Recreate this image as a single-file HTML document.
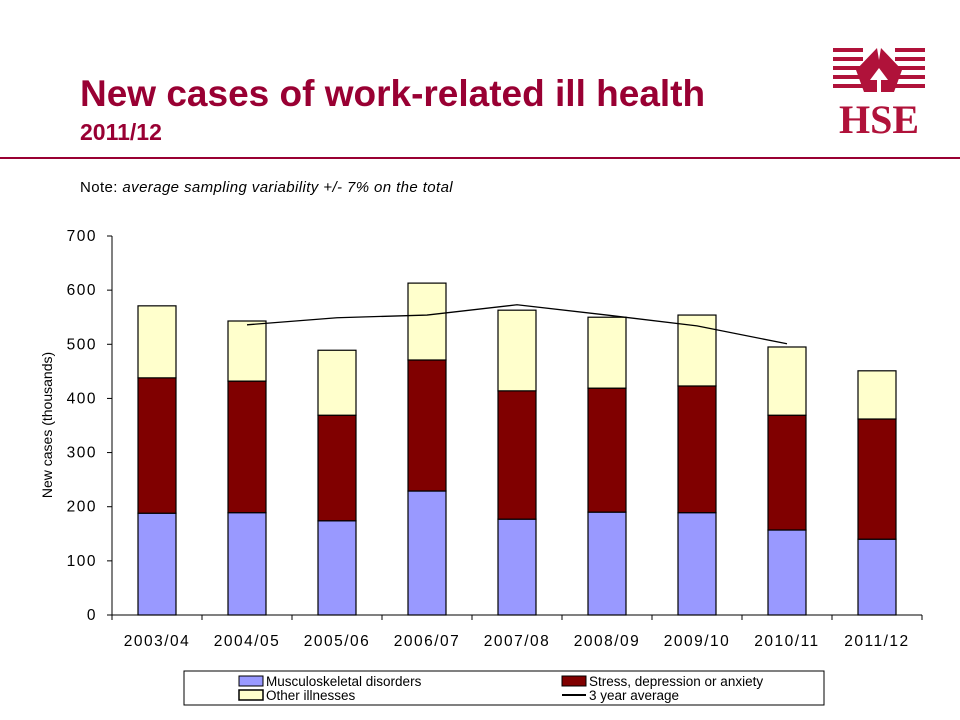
<!DOCTYPE html>
<html><head><meta charset="utf-8"><style>
body{margin:0;width:960px;height:720px;background:#fff;overflow:hidden;font-family:"Liberation Sans",Arial,sans-serif}
svg{position:absolute;left:0;top:0}
</style></head><body>
<svg id="c" width="960" height="720" xmlns="http://www.w3.org/2000/svg">
<text x="80" y="106" font-size="37" font-weight="bold" fill="#990033">New cases of work-related ill health</text>
<text x="80" y="140" font-size="23" font-weight="bold" fill="#990033">2011/12</text>
<rect x="0" y="157" width="960" height="2" fill="#990033"/>
<g fill="#b0123a">
<rect x="833" y="48" width="30" height="4"/><rect x="833" y="57" width="30" height="4"/><rect x="833" y="66" width="30" height="4"/><rect x="833" y="75" width="30" height="4"/><rect x="833" y="84" width="30" height="4"/>
<rect x="895" y="48" width="30" height="4"/><rect x="895" y="57" width="30" height="4"/><rect x="895" y="66" width="30" height="4"/><rect x="895" y="75" width="30" height="4"/><rect x="895" y="84" width="30" height="4"/>
<polygon points="877,48 856,70 864,92 877,92 877,80 870,80 879,68 888,80 881,80 881,92 894,92 902,70 881,48 879,60"/>
<text x="879" y="133" font-family="Liberation Serif,serif" font-size="40" font-weight="bold" text-anchor="middle">HSE</text>
</g>
<text x="80" y="192" font-size="15" letter-spacing="0.4">Note: <tspan font-style="italic">average sampling variability +/- 7% on the total</tspan></text>
<text transform="translate(52,425) rotate(-90)" font-size="14" text-anchor="middle">New cases (thousands)</text>
<g id="plot"></g>
<g>
<rect x="184" y="671" width="640" height="34" fill="#fff" stroke="#000"/>
<rect x="239" y="676" width="24" height="10" fill="#9999ff" stroke="#000"/>
<text x="266" y="686" font-size="13.5">Musculoskeletal disorders</text>
<rect x="239" y="690" width="24" height="10" fill="#ffffcc" stroke="#000" stroke-width="1.5"/>
<text x="266" y="700" font-size="13.5">Other illnesses</text>
<rect x="562" y="676" width="24" height="10" fill="#800000" stroke="#000"/>
<text x="589" y="686" font-size="13.5">Stress, depression or anxiety</text>
<line x1="562" y1="695" x2="586" y2="695" stroke="#000" stroke-width="2"/>
<text x="589" y="700" font-size="13.5">3 year average</text>
</g>
</svg>
<script>
const categories=["2003/04","2004/05","2005/06","2006/07","2007/08","2008/09","2009/10","2010/11","2011/12"];
const msd=[188,189,174,229,177,190,189,157,140];
const stress=[250,243,195,242,237,229,234,212,222];
const other=[133,111,120,142,149,131,131,126,89];
const avg=[null,536,549,554,573,554,534,501,null];
const yTicks=[0,100,200,300,400,500,600,700];
const NS="http://www.w3.org/2000/svg";
const X0=112,X1=922,Y0=615,Y1=236,YMAX=700;
const band=(X1-X0)/categories.length,bw=38;
const y=v=>Y0-(v/YMAX)*(Y0-Y1);
const xc=i=>X0+band*(i+0.5);
const g=document.getElementById('plot');
function mk(t,a){const e=document.createElementNS(NS,t);for(const k in a)e.setAttribute(k,a[k]);g.appendChild(e);return e;}
let e=mk('line',{x1:X0,y1:Y1,x2:X0,y2:Y0,stroke:'#000'});


e=mk('line',{x1:X0,y1:Y0,x2:X1,y2:Y0,stroke:'#000'});


yTicks.forEach(t=>{
 mk('line',{x1:X0-5,y1:y(t),x2:X0,y2:y(t),stroke:'#000'});
 const tx=mk('text',{x:X0-15,y:y(t)+5,'font-size':15.5,'letter-spacing':1.5,'text-anchor':'end'});
 tx.textContent=t;
 
 
});
for(let i=0;i<=categories.length;i++)mk('line',{x1:X0+band*i,y1:Y0,x2:X0+band*i,y2:Y0+5,stroke:'#000'});
categories.forEach((c,i)=>{
 const x=xc(i)-bw/2;
 const segs=[[0,msd[i],'#9999ff','bar-msd'],[msd[i],msd[i]+stress[i],'#800000','bar-stress'],[msd[i]+stress[i],msd[i]+stress[i]+other[i],'#ffffcc','bar-other']];
 segs.forEach(s=>{
  const r=mk('rect',{x:x,y:y(s[1]),width:bw,height:y(s[0])-y(s[1]),fill:s[2],stroke:'#000','stroke-width':1.2});
  
  
 });
 const tx=mk('text',{x:xc(i),y:Y0+31,'font-size':15.5,'letter-spacing':1.5,'text-anchor':'middle'});
 tx.textContent=c;
 
 
});
const pts=avg.map((v,i)=>v==null?null:xc(i)+','+y(v)).filter(p=>p);
const pl=mk('polyline',{points:pts.join(' '),fill:'none',stroke:'#000','stroke-width':1.3});


</script>
</body></html>
